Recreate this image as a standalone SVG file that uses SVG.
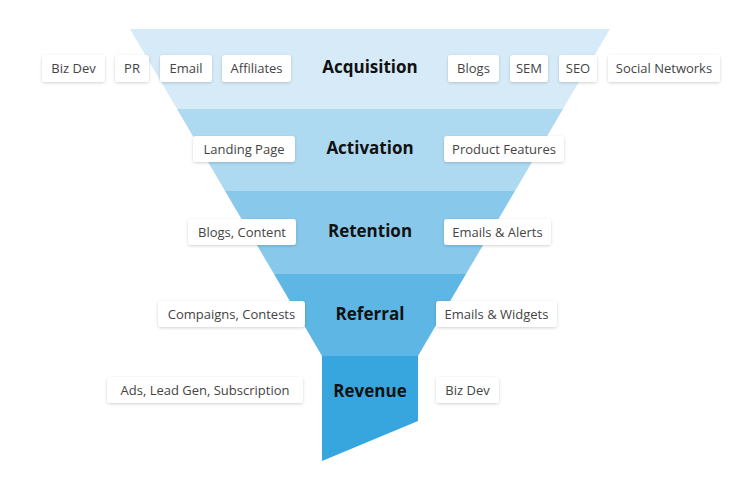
<svg xmlns="http://www.w3.org/2000/svg" width="753" height="480" viewBox="0 0 753 480">
<defs>
<filter id="sh" x="-20%" y="-30%" width="140%" height="170%">
<feDropShadow dx="0" dy="1" stdDeviation="1.5" flood-color="#000" flood-opacity="0.18"/>
</filter>
<style>
.box{fill:#fff;filter:url(#sh)}
.lbl{font-family:"Open Sans","Noto Sans","DejaVu Sans",sans-serif;font-size:13px;fill:#444;text-anchor:middle}
.ttl{font-family:"Open Sans","Noto Sans","DejaVu Sans",sans-serif;font-size:17px;font-weight:bold;fill:#111;text-anchor:middle}
</style>
</defs>
<rect width="753" height="480" fill="#fff"/>
<g id="funnel">
<g id="acquisition-stage"><polygon points="130,29 610,29 563,109 177,109" fill="#d6ebf7"/><text class="ttl" x="370" y="73">Acquisition</text></g>
<g id="activation-stage"><polygon points="177,109 563,109 515,191 225,191" fill="#aedaf1"/><text class="ttl" x="370" y="154">Activation</text></g>
<g id="retention-stage"><polygon points="225,191 515,191 466,274 274,274" fill="#88c8eb"/><text class="ttl" x="370" y="237">Retention</text></g>
<g id="referral-stage"><polygon points="274,274 466,274 418,356 322,356" fill="#5eb6e4"/><text class="ttl" x="370" y="320">Referral</text></g>
<g id="revenue-stage"><polygon points="322,356 418,356 418,421 322,461" fill="#37a6de"/><text class="ttl" x="370" y="397">Revenue</text></g>
</g>
<g id="connectors"></g>
<g id="labels">
<g id="l-bizdev"><rect class="box" x="42" y="55" width="63" height="27" rx="3"/><text class="lbl" x="73.5" y="73">Biz Dev</text></g>
<g id="l-pr"><rect class="box" x="115" y="55" width="34" height="27" rx="3"/><text class="lbl" x="132" y="73">PR</text></g>
<g id="l-email"><rect class="box" x="160" y="55" width="52" height="27" rx="3"/><text class="lbl" x="186" y="73">Email</text></g>
<g id="l-affiliates"><rect class="box" x="222" y="55" width="69" height="27" rx="3"/><text class="lbl" x="256.5" y="73">Affiliates</text></g>
<g id="l-blogs"><rect class="box" x="448" y="55" width="51" height="27" rx="3"/><text class="lbl" x="473.5" y="73">Blogs</text></g>
<g id="l-sem"><rect class="box" x="510" y="55" width="38" height="27" rx="3"/><text class="lbl" x="529" y="73">SEM</text></g>
<g id="l-seo"><rect class="box" x="559" y="55" width="38" height="27" rx="3"/><text class="lbl" x="578" y="73">SEO</text></g>
<g id="l-social"><rect class="box" x="608" y="55" width="112" height="27" rx="3"/><text class="lbl" x="664" y="73">Social Networks</text></g>
<g id="l-landing"><rect class="box" x="193" y="136" width="102" height="26" rx="3"/><text class="lbl" x="244" y="154">Landing Page</text></g>
<g id="l-product"><rect class="box" x="444" y="136" width="120" height="26" rx="3"/><text class="lbl" x="504" y="154">Product Features</text></g>
<g id="l-blogscontent"><rect class="box" x="188" y="219" width="108" height="26" rx="3"/><text class="lbl" x="242" y="237">Blogs, Content</text></g>
<g id="l-emailsalerts"><rect class="box" x="444" y="219" width="107" height="26" rx="3"/><text class="lbl" x="497.5" y="237">Emails &amp; Alerts</text></g>
<g id="l-compaigns"><rect class="box" x="158" y="301" width="147" height="26" rx="3"/><text class="lbl" x="231.5" y="319">Compaigns, Contests</text></g>
<g id="l-emailswidgets"><rect class="box" x="436" y="301" width="121" height="26" rx="3"/><text class="lbl" x="496.5" y="319">Emails &amp; Widgets</text></g>
<g id="l-ads"><rect class="box" x="107" y="377" width="196" height="26" rx="3"/><text class="lbl" x="205" y="395">Ads, Lead Gen, Subscription</text></g>
<g id="l-bizdev2"><rect class="box" x="436" y="377" width="63" height="26" rx="3"/><text class="lbl" x="467.5" y="395">Biz Dev</text></g>
</g>
</svg>
